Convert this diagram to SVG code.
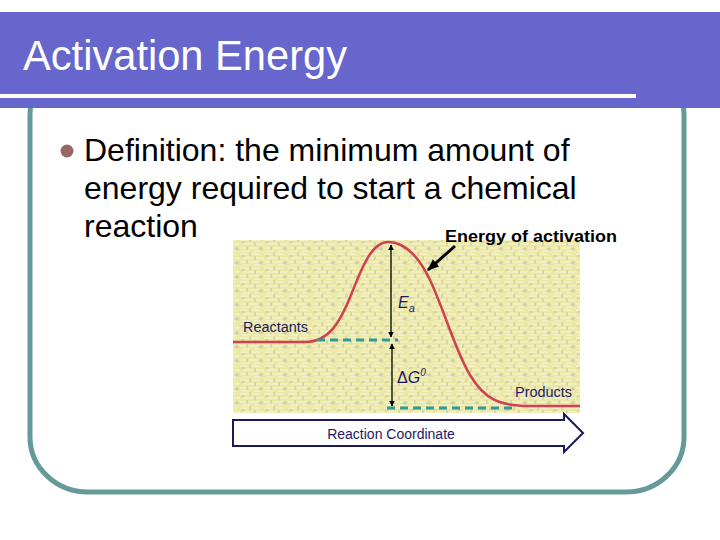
<svg xmlns="http://www.w3.org/2000/svg" width="720" height="540" viewBox="0 0 720 540">
<defs>
<style>
.title{font-family:"Liberation Sans",Arial,sans-serif;font-size:42px;fill:#ffffff}
.body{font-family:"Liberation Sans",Arial,sans-serif;font-size:32px;fill:#000000}
.lbl{font-family:"Liberation Sans",Arial,sans-serif;font-size:14px;fill:#1a1a66}
.sym{font-family:"Liberation Sans",Arial,sans-serif;font-style:italic;fill:#1a1a66}
.bold{font-family:"Liberation Sans",Arial,sans-serif;font-size:17px;font-weight:bold;fill:#000000}
.dash{stroke:#2f9a98;stroke-width:3;stroke-dasharray:8 5;fill:none}
.dim{stroke:#000000;stroke-width:1.3;fill:none}
</style>
<marker id="ah" viewBox="0 0 10 10" refX="9" refY="5" markerWidth="6" markerHeight="6" orient="auto-start-reverse" markerUnits="userSpaceOnUse">
<path d="M0,0 L10,5 L0,10 Z" fill="#000000"/>
</marker>
<marker id="ahb" viewBox="0 0 10 10" refX="9" refY="5" markerWidth="12" markerHeight="12" orient="auto" markerUnits="userSpaceOnUse">
<path d="M0,1 L10,5 L0,9 Z" fill="#000000"/>
</marker>
<pattern id="tex" width="24" height="14" patternUnits="userSpaceOnUse">
<rect width="24" height="14" fill="#ebe7a4"/>
<path d="M0,2 H9 M12,2 H20 M3,6 H14 M16,6 H24 M0,10 H6 M9,10 H19 M2,13 H10 M14,13 H22" stroke="#f7f5dc" stroke-width="1"/>
<path d="M10,0 V4 M15,4 V8 M7,8 V12 M21,9 V13 M1,4 H5 M18,11 H23" stroke="#c8c6a6" stroke-width="1"/>
</pattern>
</defs>

<g id="frame">
<rect x="30" y="60" width="654" height="432" rx="58" ry="55" fill="none" stroke="#669999" stroke-width="5"/>
</g>

<g id="header">
<rect x="0" y="12" width="720" height="96" fill="#6666cc"/>
<rect x="0" y="94" width="636" height="4" fill="#ffffff"/>
<text class="title" x="23" y="70" textLength="324" lengthAdjust="spacingAndGlyphs">Activation Energy</text>
</g>

<g id="bullet">
<circle cx="67" cy="151" r="6.5" fill="#996666"/>
<text class="body" x="84" y="161">Definition: the minimum amount of</text>
<text class="body" x="84" y="199">energy required to start a chemical</text>
<text class="body" x="84" y="237">reaction</text>
</g>

<g id="chart">
<rect x="233" y="240" width="347" height="173" fill="url(#tex)"/>
<path d="M233,342 L305,342 C330,342 341,320 351,295 C361,270 371,242 388,242 C404,242 418,255 430,280 C445,312 455,350 470,375 C485,400 500,406 530,406 L580,406" fill="none" stroke="#d0404e" stroke-width="2.5"/>
</g>

<g id="connectors">
<line class="dash" x1="317" y1="340" x2="398" y2="340"/>
<line class="dash" x1="387" y1="408" x2="516" y2="408"/>
<line class="dim" x1="391" y1="245" x2="391" y2="337" marker-start="url(#ah)" marker-end="url(#ah)"/>
<line class="dim" x1="392" y1="344" x2="392" y2="406" stroke-width="2" marker-start="url(#ah)" marker-end="url(#ah)"/>
<line x1="455" y1="246" x2="428" y2="270" stroke="#000000" stroke-width="3" marker-end="url(#ahb)"/>
</g>

<g id="labels">
<text class="lbl" x="243" y="332" textLength="65" lengthAdjust="spacingAndGlyphs">Reactants</text>
<text class="lbl" x="515" y="397" textLength="57" lengthAdjust="spacingAndGlyphs">Products</text>
<text class="sym" x="398" y="308" font-size="16">E<tspan font-size="11" dy="4">a</tspan></text>
<text class="sym" x="397" y="383" font-size="16"><tspan font-style="normal">Δ</tspan>G<tspan font-size="10" dy="-7">0</tspan></text>
<text class="bold" x="445" y="242" textLength="172" lengthAdjust="spacingAndGlyphs">Energy of activation</text>
</g>

<g id="axis">
<path d="M233,420 L564,420 L564,414 L583,433 L564,452 L564,446 L233,446 Z" fill="#ffffff" stroke="#1a1a5a" stroke-width="2"/>
<text class="lbl" x="391" y="439" text-anchor="middle">Reaction Coordinate</text>
</g>
</svg>
